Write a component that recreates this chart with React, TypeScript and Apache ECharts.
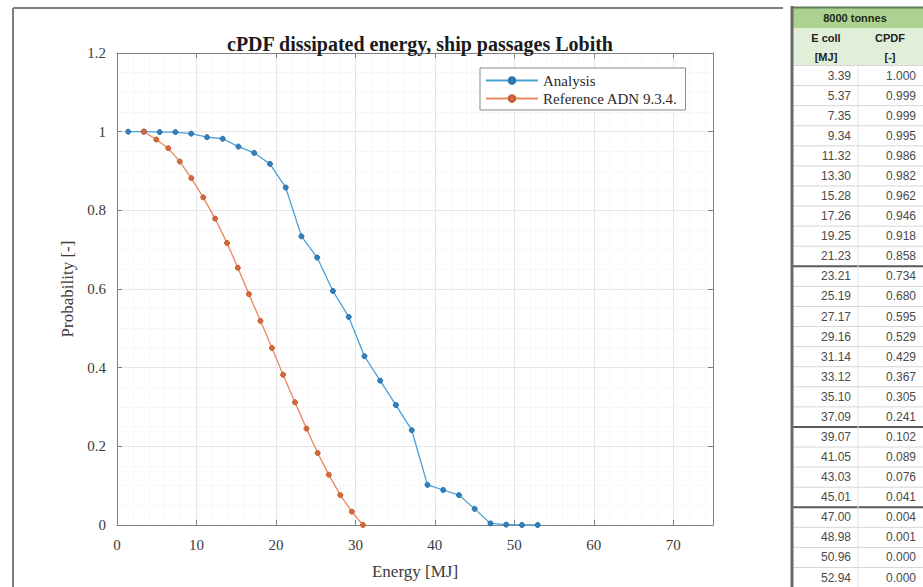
import React, { useEffect, useRef } from "react";
import * as echarts from "echarts";

// Analysis curve (cPDF of dissipated energy, ship passages Lobith)
const analysisEnergy = [1.41, 3.39, 5.37, 7.35, 9.34, 11.32, 13.3, 15.28, 17.26, 19.25, 21.23, 23.21, 25.19, 27.17, 29.16, 31.14, 33.12, 35.1, 37.09, 39.07, 41.05, 43.03, 45.01, 47.0, 48.98, 50.96, 52.94];
const analysisProb = [1.0, 1.0, 0.999, 0.999, 0.995, 0.986, 0.982, 0.962, 0.946, 0.918, 0.858, 0.734, 0.68, 0.595, 0.529, 0.429, 0.367, 0.305, 0.241, 0.102, 0.089, 0.076, 0.041, 0.004, 0.001, 0.0, 0.0];

// Reference ADN 9.3.4. curve
const referenceEnergy = [3.35, 4.95, 6.45, 7.9, 9.35, 10.85, 12.35, 13.85, 15.2, 16.6, 18.05, 19.5, 20.9, 22.4, 23.85, 25.25, 26.65, 28.1, 29.55, 30.95];
const referenceProb = [1.0, 0.98, 0.958, 0.924, 0.882, 0.833, 0.779, 0.717, 0.654, 0.587, 0.519, 0.45, 0.382, 0.312, 0.245, 0.183, 0.128, 0.076, 0.034, 0.0];

// Table (8000 tonnes)
const tableTitle = "8000 tonnes";
const tableHeaders = ["E coll", "CPDF"];
const tableUnits = ["[MJ]", "[-]"];
const tableEnergy = ["3.39", "5.37", "7.35", "9.34", "11.32", "13.30", "15.28", "17.26", "19.25", "21.23", "23.21", "25.19", "27.17", "29.16", "31.14", "33.12", "35.10", "37.09", "39.07", "41.05", "43.03", "45.01", "47.00", "48.98", "50.96", "52.94"];
const tableCpdf = ["1.000", "0.999", "0.999", "0.995", "0.986", "0.982", "0.962", "0.946", "0.918", "0.858", "0.734", "0.680", "0.595", "0.529", "0.429", "0.367", "0.305", "0.241", "0.102", "0.089", "0.076", "0.041", "0.004", "0.001", "0.000", "0.000"];
const tableGroupBreaks = [10, 18, 22];

const SERIF = "Liberation Serif";
const SANS = "Liberation Sans";

export default function App() {
  const ref = useRef<HTMLDivElement>(null);

  useEffect(() => {
    if (!ref.current) return;
    const chart = echarts.init(ref.current, null, { renderer: "svg" });

    const axisColor = "#808080";
    const gridColor = "#e6e6e6";
    const minorColor = "#efefef";

    // table graphics
    const tL = 793;
    const tR = 930;
    const rowTop = 65.5;
    const rowH = 20.08;
    const g: any[] = [];
    g.push({ type: "rect", shape: { x: tL, y: 8, width: tR - tL, height: 20 }, style: { fill: "#acd292" }, silent: true });
    g.push({ type: "rect", shape: { x: tL, y: 28, width: tR - tL, height: 38 }, style: { fill: "#e1eed8" }, silent: true });
    for (let i = 0; i <= tableEnergy.length; i++) {
      const y = rowTop + i * rowH;
      const thick = tableGroupBreaks.indexOf(i) >= 0;
      g.push({
        type: "line",
        shape: { x1: tL, y1: y, x2: tR, y2: y },
        style: { stroke: thick ? "#5a5a5a" : "#d6d6d6", lineWidth: thick ? 2 : 1 },
        silent: true,
      });
    }
    g.push({ type: "line", shape: { x1: 858, y1: rowTop, x2: 858, y2: 590 }, style: { stroke: "#e4e4e4", lineWidth: 1 }, silent: true });
    g.push({ type: "line", shape: { x1: tL, y1: 7.5, x2: tR, y2: 7.5 }, style: { stroke: "#5f7d52", lineWidth: 2 }, silent: true });
    g.push({ type: "line", shape: { x1: 792, y1: 6, x2: 792, y2: 590 }, style: { stroke: "#6a6a6a", lineWidth: 3 }, silent: true });
    g.push({ type: "text", x: 855, y: 18, style: { text: tableTitle, fill: "#1f2a18", font: `bold 11px "${SANS}"`, textAlign: "center", textVerticalAlign: "middle" }, silent: true });
    g.push({ type: "text", x: 826, y: 38, style: { text: tableHeaders[0], fill: "#222", font: `bold 11px "${SANS}"`, textAlign: "center", textVerticalAlign: "middle" }, silent: true });
    g.push({ type: "text", x: 890, y: 38, style: { text: tableHeaders[1], fill: "#222", font: `bold 11px "${SANS}"`, textAlign: "center", textVerticalAlign: "middle" }, silent: true });
    g.push({ type: "text", x: 826, y: 56.5, style: { text: tableUnits[0], fill: "#222", font: `bold 11px "${SANS}"`, textAlign: "center", textVerticalAlign: "middle" }, silent: true });
    g.push({ type: "text", x: 890, y: 56.5, style: { text: tableUnits[1], fill: "#222", font: `bold 11px "${SANS}"`, textAlign: "center", textVerticalAlign: "middle" }, silent: true });
    for (let i = 0; i < tableEnergy.length; i++) {
      const cy = rowTop + i * rowH + rowH / 2;
      g.push({ type: "text", x: 851, y: cy, style: { text: tableEnergy[i], fill: "#4a4a4a", font: `12px "${SANS}"`, textAlign: "right", textVerticalAlign: "middle" }, silent: true });
      g.push({ type: "text", x: 916, y: cy, style: { text: tableCpdf[i], fill: "#4a4a4a", font: `12px "${SANS}"`, textAlign: "right", textVerticalAlign: "middle" }, silent: true });
    }
    g.push({ type: "line", shape: { x1: 13, y1: 8, x2: 783, y2: 8 }, style: { stroke: "#7f7f7f", lineWidth: 2 }, silent: true });
    g.push({ type: "line", shape: { x1: 13, y1: 8, x2: 13, y2: 590 }, style: { stroke: "#7f7f7f", lineWidth: 2 }, silent: true });

    const commonAxisLine = { show: true, onZero: false, lineStyle: { color: axisColor, width: 1 } };
    const commonTick = { show: true, inside: true, length: 5, lineStyle: { color: axisColor } };
    const labelStyle = { fontFamily: SERIF, fontSize: 15, color: "#3a3a3a" };

    chart.setOption({
      animation: false,
      backgroundColor: "#ffffff",
      title: {
        text: "cPDF dissipated energy, ship passages Lobith",
        left: 415,
        top: 29,
        textAlign: "center",
        textStyle: { fontFamily: SERIF, fontSize: 20, fontWeight: "bold", color: "#1a1a1a" },
      },
      legend: {
        left: 480,
        top: 68,
        orient: "vertical",
        backgroundColor: "#ffffff",
        borderColor: "#8a8a8a",
        borderWidth: 1,
        padding: [5, 8, 4, 5],
        itemGap: 3,
        itemWidth: 52,
        itemHeight: 8,
        textStyle: { fontFamily: SERIF, fontSize: 15, color: "#2a2a2a" },
        data: ["Analysis", "Reference ADN 9.3.4."],
      },
      grid: { left: 117, right: 210, top: 53, bottom: 62, containLabel: false },
      xAxis: [
        {
          type: "value",
          min: 0,
          max: 75,
          interval: 10,
          position: "bottom",
          name: "Energy [MJ]",
          nameLocation: "middle",
          nameGap: 38,
          nameTextStyle: { fontFamily: SERIF, fontSize: 17, color: "#3a3a3a" },
          axisLine: commonAxisLine,
          axisTick: commonTick,
          axisLabel: { ...labelStyle, margin: 12, showMaxLabel: false },
          splitLine: { show: true, lineStyle: { color: gridColor, width: 1 } },
          minorTick: { show: false, splitNumber: 5 },
          minorSplitLine: { show: true, lineStyle: { color: minorColor, width: 1, type: "dotted" } },
        },
        {
          type: "value",
          min: 0,
          max: 75,
          interval: 10,
          position: "top",
          axisLine: commonAxisLine,
          axisTick: commonTick,
          axisLabel: { show: false },
          splitLine: { show: false },
        },
      ],
      yAxis: [
        {
          type: "value",
          min: 0,
          max: 1.2,
          interval: 0.2,
          position: "left",
          name: "Probability [-]",
          nameLocation: "middle",
          nameGap: 41,
          nameRotate: 90,
          nameTextStyle: { fontFamily: SERIF, fontSize: 17, color: "#3a3a3a" },
          axisLine: commonAxisLine,
          axisTick: commonTick,
          axisLabel: { ...labelStyle, margin: 11 },
          splitLine: { show: true, lineStyle: { color: gridColor, width: 1 } },
          minorTick: { show: false, splitNumber: 4 },
          minorSplitLine: { show: true, lineStyle: { color: minorColor, width: 1, type: "dotted" } },
        },
        {
          type: "value",
          min: 0,
          max: 1.2,
          interval: 0.2,
          position: "right",
          axisLine: commonAxisLine,
          axisTick: commonTick,
          axisLabel: { show: false },
          splitLine: { show: false },
        },
      ],
      series: [
        {
          name: "Analysis",
          type: "line",
          xAxisIndex: 0,
          yAxisIndex: 0,
          data: analysisEnergy.map((e, i) => [e, analysisProb[i]]),
          symbol: "circle",
          symbolSize: 5,
          lineStyle: { color: "#4aa0d8", width: 1.3 },
          itemStyle: { color: "#3181bd", borderColor: "#2a6fa6", borderWidth: 1 },
          z: 3,
        },
        {
          name: "Reference ADN 9.3.4.",
          type: "line",
          xAxisIndex: 0,
          yAxisIndex: 0,
          data: referenceEnergy.map((e, i) => [e, referenceProb[i]]),
          symbol: "circle",
          symbolSize: 5,
          lineStyle: { color: "#e8895e", width: 1.3 },
          itemStyle: { color: "#d9683a", borderColor: "#c25a30", borderWidth: 1 },
          z: 4,
        },
      ],
      graphic: g,
    });

    return () => chart.dispose();
  }, []);

  return (
    <div
      ref={ref}
      style={{ position: "absolute", left: 0, top: 0, width: 923, height: 587, background: "#fff" }}
    />
  );
}
